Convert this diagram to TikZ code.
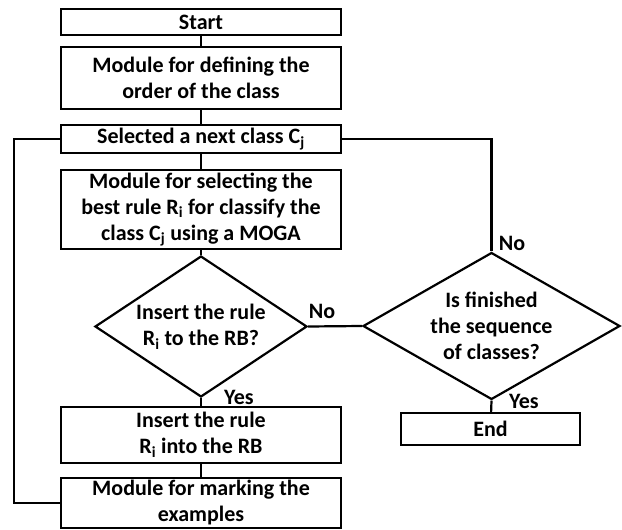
\documentclass[tikz,border=0pt]{standalone}
\usepackage{fontspec}
\setmainfont{Carlito}
\usetikzlibrary{shapes.geometric}
\begin{document}
\begin{tikzpicture}[x=1pt,y=-1pt,
  every node/.style={font=\fontsize{22}{26}\selectfont\bfseries},
  box/.style={draw, line width=2.2pt, minimum width=280pt, inner sep=0pt, align=center},
  dec/.style={draw, line width=2.2pt, shape=diamond, inner sep=0pt, align=center},
  lbl/.style={inner sep=0pt},
  conn/.style={line width=2.2pt}]
\useasboundingbox (0,0) rectangle (622,530);
\node[box, minimum height=26pt] (start) at (201,22) {Start};
\node[box, minimum height=62pt] (define) at (201,78) {Module for defining the\\order of the class};
\node[box, minimum height=28pt] (select) at (201,139) {Selected a next class C\textsubscript{j}};
\node[box, minimum height=79pt] (best) at (201,209.5) {Module for selecting the\\best rule R\textsubscript{i} for classify the\\class C\textsubscript{j} using a MOGA};
\node[dec, aspect=1.5, minimum width=212pt, minimum height=141pt] (d1) at (201,326.5) {Insert the rule\\R\textsubscript{i} to the RB?};
\node[box, minimum height=56pt] (insert) at (201,435) {Insert the rule\\R\textsubscript{i} into the RB};
\node[box, minimum height=50pt] (mark) at (201,503) {Module for marking the\\examples};
\node[dec, aspect=1.75, minimum width=257pt, minimum height=147pt] (d2) at (491.5,326) {Is finished\\the sequence\\of classes?};
\node[box, minimum width=179pt, minimum height=32pt] (end) at (490.5,429) {End};
\coordinate (loop) at (14,503);
\draw[conn] (start) -- (define);
\draw[conn] (define) -- (select);
\draw[conn] (select) -- (best);
\draw[conn] (best) -- (d1.north);
\draw[conn] (d1.south) -- (insert);
\draw[conn] (insert) -- (mark);
\draw[conn] (d1.east) -- (d2.west);
\draw[conn] (d2.north) |- (select.east);
\draw[conn] (d2.south) -- (end);
\draw[conn] (mark.west) -- (loop) |- (select.west);
\node[lbl] (no1) at (322,311) {No};
\node[lbl] (yes1) at (239,397) {Yes};
\node[lbl] (no2) at (512,243) {No};
\node[lbl] (yes2) at (524,401) {Yes};
\end{tikzpicture}
\end{document}
